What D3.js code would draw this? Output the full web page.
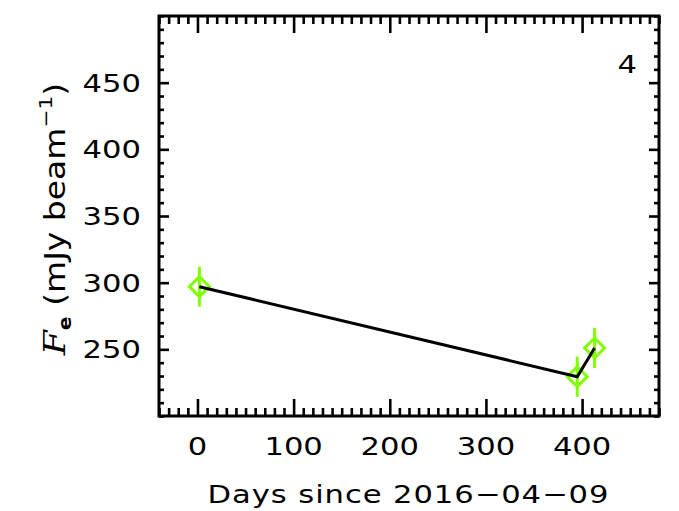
<!DOCTYPE html>
<html>
<head>
<meta charset="utf-8">
<script src="https://cdn.jsdelivr.net/npm/d3@7"></script>
<style>
  html, body { margin: 0; padding: 0; background: #fff; }
  svg { display: block; }
  text { font-family: "DejaVu Sans", sans-serif; fill: #000; }
</style>
</head>
<body>
<svg id="chart" width="679" height="511"></svg>
<script>
// Flux density of component 4 over time
const days    = [2, 395, 413];
const flux    = [297, 229.5, 251];
const fluxErr = [15, 15, 15];

const xMajorTicks = [0, 100, 200, 300, 400];
const yMajorTicks = [250, 300, 350, 400, 450];
const xDomain = [-40, 480];
const yDomain = [200, 500];
const panelLabel = "4";
const xTitle = "Days since 2016\u221204\u221209";

const plot = { left: 159, right: 659, top: 16, bottom: 416 };
const green = "#80ff00";
const stretch = 1.2;   // widen glyphs horizontally

const svg = d3.select("#chart");

const x = d3.scaleLinear().domain(xDomain).range([plot.left, plot.right]);
const y = d3.scaleLinear().domain(yDomain).range([plot.bottom, plot.top]);

const xMinor = d3.range(xDomain[0], xDomain[1] + 1, 10).filter(v => !xMajorTicks.includes(v));
const yMinor = d3.range(yDomain[0], yDomain[1] + 1, 10).filter(v => !yMajorTicks.includes(v));

// inward-pointing ticks on all four sides
function drawAxis(axisFn, scale, values, size, transform) {
  const g = svg.append("g")
    .attr("transform", transform)
    .call(axisFn(scale).tickValues(values).tickSize(size).tickFormat(""));
  g.select(".domain").remove();
  g.selectAll(".tick line").attr("stroke", "#000").attr("stroke-width", 2.6);
  return g;
}
drawAxis(d3.axisBottom, x, xMinor, -8, `translate(0,${plot.bottom})`);
drawAxis(d3.axisBottom, x, xMajorTicks, -17, `translate(0,${plot.bottom})`);
drawAxis(d3.axisTop, x, xMinor, -8, `translate(0,${plot.top})`);
drawAxis(d3.axisTop, x, xMajorTicks, -17, `translate(0,${plot.top})`);
drawAxis(d3.axisLeft, y, yMinor, -5, `translate(${plot.left},0)`);
drawAxis(d3.axisLeft, y, yMajorTicks, -10, `translate(${plot.left},0)`);
drawAxis(d3.axisRight, y, yMinor, -5, `translate(${plot.right},0)`);
drawAxis(d3.axisRight, y, yMajorTicks, -10, `translate(${plot.right},0)`);

// frame
svg.append("rect")
  .attr("x", plot.left).attr("y", plot.top)
  .attr("width", plot.right - plot.left).attr("height", plot.bottom - plot.top)
  .attr("fill", "none").attr("stroke", "#000").attr("stroke-width", 3);

// text placed at (px, py), stretched horizontally in its own frame
function wideText(px, py, anchor, size, rotate) {
  const g = svg.append("g")
    .attr("transform", `translate(${px},${py})${rotate ? ` rotate(${rotate})` : ""} scale(${stretch},1)`);
  return g.append("text").attr("text-anchor", anchor).attr("font-size", size);
}

// tick labels
xMajorTicks.forEach(d => wideText(x(d), 455, "middle", 25.5).text(d));
yMajorTicks.forEach(d => wideText(141, y(d) + 9, "end", 25.5).text(d));

// axis titles
wideText(408, 503, "middle", 25.5)
  .attr("textLength", 334).attr("lengthAdjust", "spacing")
  .text(xTitle);

const yt = wideText(65, (plot.top + plot.bottom) / 2 + 3, "middle", 27.5, -90);
yt.append("tspan").attr("font-family", "DejaVu Serif").attr("font-style", "italic").attr("font-size", 30).text("F");
yt.append("tspan").attr("font-weight", "bold").attr("font-size", 17).attr("dy", 6).text("e");
yt.append("tspan").attr("dy", -6).text(" (mJy beam");
yt.append("tspan").attr("font-size", 18).attr("dy", -13).text("\u22121");
yt.append("tspan").attr("dy", 13).text(")");

// panel number
wideText(637, 73, "end", 25.5).text(panelLabel);

// error bars
const pts = days.map((d, i) => ({ d, f: flux[i], e: fluxErr[i] }));
svg.append("g").selectAll("line").data(pts).join("line")
  .attr("x1", p => x(p.d)).attr("x2", p => x(p.d))
  .attr("y1", p => y(p.f - p.e)).attr("y2", p => y(p.f + p.e))
  .attr("stroke", green).attr("stroke-width", 3);

// diamond symbols
const r = 10;
svg.append("g").selectAll("path").data(pts).join("path")
  .attr("d", p => {
    const cx = x(p.d), cy = y(p.f);
    return `M${cx},${cy - r}L${cx + r},${cy}L${cx},${cy + r}L${cx - r},${cy}Z`;
  })
  .attr("fill", "none").attr("stroke", green).attr("stroke-width", 3);

// connecting line
svg.append("path")
  .datum(pts)
  .attr("d", d3.line().x(p => x(p.d)).y(p => y(p.f)))
  .attr("fill", "none").attr("stroke", "#000").attr("stroke-width", 3);
</script>
</body>
</html>
